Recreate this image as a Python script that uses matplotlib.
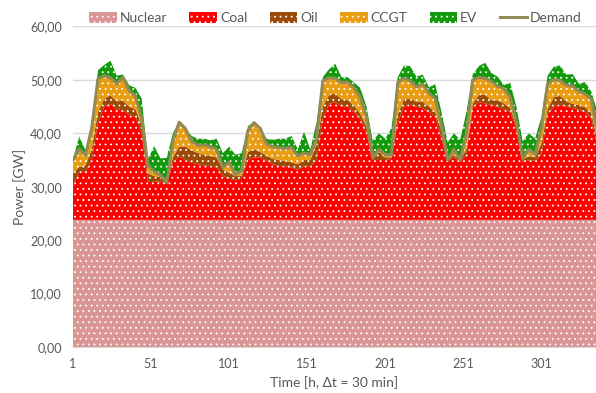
import numpy as np
import matplotlib
matplotlib.use("Agg")
import matplotlib.pyplot as plt

# Half-hourly time steps over one week (sampled every 4 steps)
time_step = np.r_[np.arange(1, 334, 4), 336]

nuclear_gw = 23.8

coal = [6.2, 9.0, 9.0, 11.2, 18.2, 21.2, 21.7, 20.7, 20.5, 19.7, 19.2, 16.2,
        7.1, 7.1, 7.2, 6.8, 10.7, 11.8, 11.2, 10.7, 10.4, 10.2, 10.0, 9.8,
        8.2, 7.7, 7.4, 7.7, 11.2, 11.7, 11.7, 11.0, 10.4, 10.1, 10.0, 9.8,
        9.4, 10.0, 9.9, 11.2, 19.0, 21.7, 22.0, 21.3, 21.2, 20.2, 18.9, 16.2,
        11.2, 11.2, 11.2, 11.4, 18.2, 21.2, 21.5, 21.2, 20.9, 20.2, 19.2, 15.2,
        11.0, 11.7, 10.8, 12.2, 21.0, 22.0, 21.8, 21.5, 21.1, 20.7, 20.2, 17.2,
        10.9, 11.1, 11.1, 12.2, 19.7, 21.2, 21.5, 21.2, 20.9, 20.6, 20.2, 19.0,
        14.9]

oil = [2.5, 0.9, 1.2, 2.0, 2.0, 1.5, 1.6, 1.5, 1.8, 1.5, 1.5, 1.5,
       1.6, 1.1, 0.8, 0.1, 1.0, 1.9, 2.5, 2.3, 2.1, 2.0, 2.0, 1.9,
       1.2, 1.1, 0.8, 0.5, 1.5, 1.5, 1.0, 1.0, 1.0, 1.1, 1.0, 1.0,
       1.0, 1.2, 1.3, 3.0, 2.2, 1.7, 1.7, 1.3, 1.2, 1.2, 1.0, 1.2,
       0.2, 1.5, 0.5, 0.3, 1.5, 1.4, 1.2, 0.9, 1.2, 1.0, 1.0, 1.5,
       0.1, 0.5, 0.4, 1.0, 0.7, 1.4, 1.6, 0.9, 1.3, 1.1, 0.8, 0.5,
       0.4, 0.8, 0.6, 2.0, 1.0, 1.8, 1.7, 1.0, 0.8, 0.9, 0.9, 1.0,
       1.3]

ccgt = [2.5, 3.4, 1.9, 4.0, 6.2, 4.3, 3.3, 3.3, 4.4, 3.0, 2.5, 1.3,
        1.5, 0.8, 0.4, 0.1, 3.0, 4.6, 3.4, 1.7, 1.5, 1.8, 1.7, 1.5,
        0.4, 2.0, 0.3, 1.0, 4.0, 5.0, 4.4, 2.2, 2.3, 2.3, 2.4, 2.7,
        1.6, 1.3, 1.0, 1.0, 4.8, 3.2, 2.8, 3.1, 3.4, 3.3, 3.1, 1.8,
        0.2, 0.5, 0.5, 0.5, 6.0, 3.9, 3.3, 2.8, 3.3, 2.5, 2.5, 1.0,
        0.1, 1.0, 0.0, 3.0, 4.5, 3.3, 3.1, 3.5, 2.6, 2.8, 2.0, 0.5,
        0.2, 1.3, 0.5, 3.0, 4.8, 3.3, 2.9, 3.0, 3.4, 2.5, 2.5, 2.6,
        1.5]

ev = [0.2, 2.3, 0.9, 1.0, 1.6, 2.0, 3.2, 1.5, 0.5, 1.0, 1.5, 3.7,
      1.2, 4.8, 3.1, 4.6, 1.5, 0.2, 0.1, 1.0, 1.2, 1.2, 1.2, 2.0,
      2.7, 2.9, 3.7, 3.3, 0.8, 0.2, 0.1, 1.0, 1.3, 1.7, 1.8, 2.2,
      1.2, 4.0, 1.0, 3.0, 0.7, 1.6, 2.7, 1.0, 0.9, 1.0, 1.7, 2.0,
      3.2, 3.0, 3.0, 5.0, 1.0, 2.4, 2.8, 1.9, 1.8, 1.1, 2.7, 2.5,
      3.3, 3.0, 3.8, 4.0, 1.0, 2.1, 2.9, 1.6, 1.8, 0.6, 2.7, 3.0,
      3.2, 3.0, 3.0, 2.0, 1.5, 2.4, 2.8, 2.0, 2.2, 1.5, 2.2, 1.4,
      3.4]

demand = [35.0, 37.1, 35.9, 41.0, 50.2, 50.8, 50.4, 49.3, 50.5, 48.0, 47.0, 42.8,
          34.0, 32.8, 32.2, 30.8, 38.5, 42.1, 40.9, 38.5, 37.8, 37.8, 37.5, 37.0,
          33.6, 34.6, 32.3, 33.0, 40.5, 42.0, 40.9, 38.0, 37.5, 37.3, 37.2, 37.3,
          35.8, 36.3, 36.0, 39.0, 49.8, 50.4, 50.3, 49.5, 49.6, 48.5, 46.8, 43.0,
          35.4, 37.0, 36.0, 36.0, 49.5, 50.3, 49.8, 48.7, 49.2, 47.5, 46.5, 41.5,
          35.0, 37.0, 35.0, 40.0, 50.0, 50.5, 50.3, 49.7, 48.8, 48.4, 46.8, 42.0,
          35.3, 37.0, 36.0, 41.0, 49.3, 50.1, 49.9, 49.0, 48.9, 47.8, 47.4, 46.4,
          41.5]

series_names = ["Nuclear", "Coal", "Oil", "CCGT", "EV"]
series_colors = ["#DA9694", "#FF0000", "#9C4A07", "#E89D12", "#129A0C"]
x_ticks = [1, 51, 101, 151, 201, 251, 301]
y_ticks = [0, 10, 20, 30, 40, 50, 60]

plt.rcParams["font.family"] = ["Lato", "DejaVu Sans"]
plt.rcParams["hatch.linewidth"] = 0.6

fig = plt.figure(figsize=(5.96, 3.93), dpi=100)
ax = fig.add_axes([73 / 596, 46 / 393, 523 / 596, 320.5 / 393])

layers = np.vstack([np.full(len(time_step), nuclear_gw), coal, oil, ccgt, ev])
tops = np.cumsum(layers, axis=0)
bottoms = np.vstack([np.zeros(len(time_step)), tops[:-1]])

handles = []
for name, color, lo, hi in zip(series_names, series_colors, bottoms, tops):
    h = ax.fill_between(time_step, lo, hi, facecolor=color, edgecolor="white",
                        hatch="...", linewidth=0, label=name, zorder=2)
    handles.append(h)

line, = ax.plot(time_step, demand, color="#948A54", linewidth=2.2,
                label="Demand", zorder=3, solid_joinstyle="round")
handles.append(line)

ax.set_xlim(1, 336)
ax.set_ylim(0, 60)
ax.set_xticks(x_ticks)
ax.set_yticks(y_ticks)
ax.set_yticklabels([f"{v:.2f}".replace(".", ",") for v in y_ticks])
ax.tick_params(axis="both", length=0, labelsize=9, colors="#595959")
ax.tick_params(axis="x", pad=8)
ax.tick_params(axis="y", pad=8)
ax.grid(axis="y", color="#D9D9D9", linewidth=1, zorder=0)
ax.set_axisbelow(True)
for side in ["top", "right", "left"]:
    ax.spines[side].set_visible(False)
ax.spines["bottom"].set_color("#D9D9D9")

ax.set_ylabel("Power [GW]", fontsize=10, color="#595959", labelpad=3)
ax.set_xlabel("Time [h, \u0394t = 30 min]", fontsize=10, color="#595959", labelpad=4)

fig.legend(handles=handles, loc="center", bbox_to_anchor=(0.563, 0.954), ncol=6,
           frameon=False, fontsize=10, labelcolor="#595959", handlelength=2.0,
           handleheight=0.8, handletextpad=0.2, columnspacing=1.6,
           borderaxespad=0, borderpad=0)

fig.savefig("out.png", dpi=100)
